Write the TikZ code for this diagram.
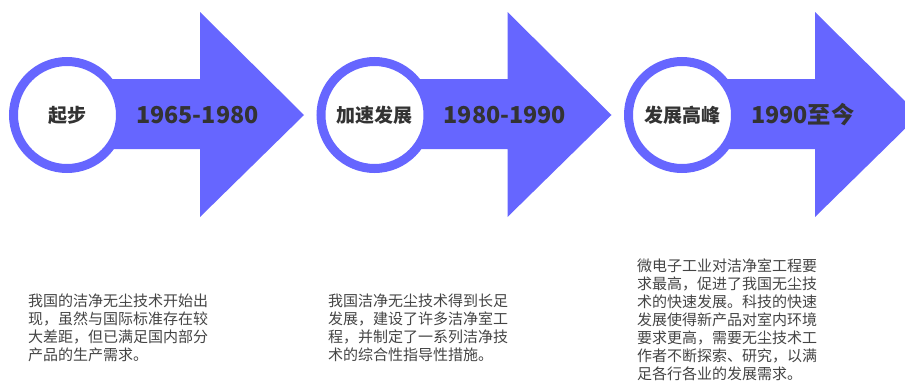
\documentclass[tikz,border=0pt]{standalone}
\usepackage{fontspec}
\setmainfont{Noto Sans CJK SC}
\definecolor{arrowblue}{RGB}{102,102,255}
\definecolor{titlegray}{RGB}{51,51,51}
\definecolor{bodygray}{RGB}{68,68,68}
\begin{document}
\begin{tikzpicture}[x=1pt,y=-1pt,
  ring/.style={circle, fill=white, draw=arrowblue, line width=9pt, minimum size=107pt, inner sep=0pt,
    text=titlegray, font=\bfseries\fontsize{19}{22}\selectfont},
  years/.style={anchor=west, inner sep=0pt, text=titlegray, font=\bfseries\fontsize{23.3}{28}\selectfont},
  body/.style={anchor=north west, inner sep=0pt, align=left, text=bodygray, font=\fontsize{15}{18}\selectfont},
  arrowbody/.style={fill=arrowblue}]
\useasboundingbox (0,0) rectangle (905,383);
\foreach \i/\lab/\yr in {0/起步/1965-1980, 1/加速发展/1980-1990, 2/发展高峰/1990至今}{
  \pgfmathsetmacro{\cx}{67+307.5*\i}
  \pgfmathsetmacro{\sx}{200+307.5*\i}
  \pgfmathsetmacro{\tx}{\sx+104}
  \fill[arrowbody] (\cx,79) -- (\sx,79) -- (\sx,12) -- (\tx,115) -- (\sx,217) -- (\sx,149) -- (\cx,149) -- cycle;
  \node[ring] (c\i) at (\cx,115) {\lab};
  \node[years] (y\i) at (\cx+69,115) {\yr};
}
\node[body] (t0) at (28,294) {我国的洁净无尘技术开始出\\现，虽然与国际标准存在较\\大差距，但已满足国内部分\\产品的生产需求。};
\node[body] (t1) at (328,294) {我国洁净无尘技术得到长足\\发展，建设了许多洁净室工\\程，并制定了一系列洁净技\\术的综合性指导性措施。};
\node[body] (t2) at (637,259) {微电子工业对洁净室工程要\\求最高，促进了我国无尘技\\术的快速发展。科技的快速\\发展使得新产品对室内环境\\要求更高，需要无尘技术工\\作者不断探索、研究，以满\\足各行各业的发展需求。};
\end{tikzpicture}
\end{document}
